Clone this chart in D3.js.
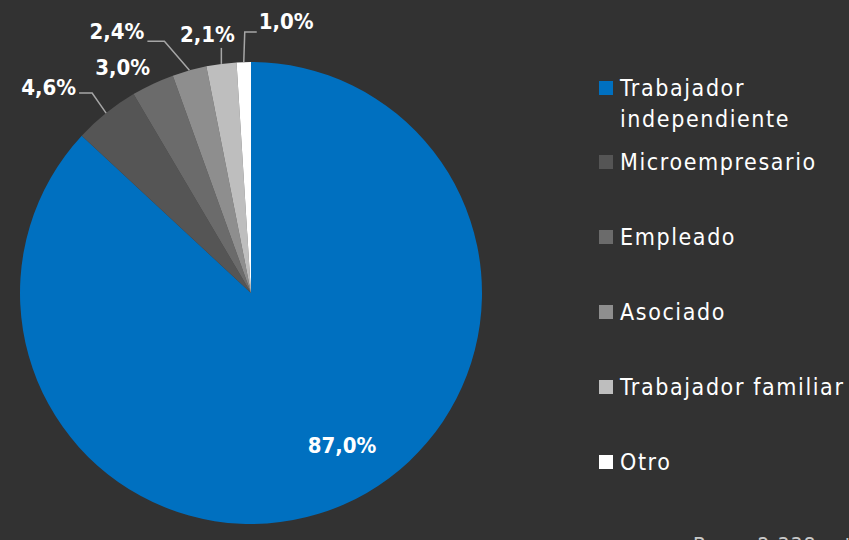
<!DOCTYPE html>
<html>
<head>
<meta charset="utf-8">
<script src="https://cdn.jsdelivr.net/npm/d3@7"></script>
<style>
  body { margin: 0; background: #323232; }
  svg { display: block; }
</style>
</head>
<body>
<div id="chart"></div>
<script>
// data
var categories = ["Trabajador independiente", "Microempresario", "Empleado", "Asociado", "Trabajador familiar", "Otro"];
var values = [87.0, 4.6, 3.0, 2.4, 2.1, 1.0];
var valueLabels = ["87,0%", "4,6%", "3,0%", "2,4%", "2,1%", "1,0%"];
var baseNote = "Base: 2.338 ortodoncistas";

var colors = ["#0070c0", "#555555", "#6b6b6b", "#8e8e8e", "#bebebe", "#ffffff"];

var width = 849;
var height = 540;
var cx = 251, cy = 293, radius = 231;

var svg = d3.select("#chart")
    .append("svg")
    .attr("width", width)
    .attr("height", height);

svg.append("rect")
    .attr("width", width)
    .attr("height", height)
    .attr("fill", "#323232");

var g = svg.append("g")
    .attr("transform", "translate(" + cx + "," + cy + ")");

var pie = d3.pie().sort(null).value(function(d) { return d; });
var arcs = pie(values);

var arc = d3.arc().innerRadius(0).outerRadius(radius);

g.selectAll(".slice")
    .data(arcs)
    .enter().append("path")
    .attr("class", "slice")
    .attr("d", arc)
    .attr("fill", function(d, i) { return colors[i]; });

// label layout: leader bends (relative to the slice edge point) and text offset
var layout = [
    {kind: "in", dx: 91, dy: 152, anchor: "middle"},
    {kind: "leader", bend: [-14, -20], end: [-27, -20], tx: -30, ty: -26, anchor: "end"},
    {kind: "plain", tx: -30, ty: -17, anchor: "middle"},
    {kind: "leader", bend: [-25, -29], end: [-42, -29], tx: -45, ty: -39, anchor: "end"},
    {kind: "leader", bend: [0, -16], end: [0, -16], tx: -14, ty: -30, anchor: "middle"},
    {kind: "leader", bend: [1, -30], end: [13, -30], tx: 15, ty: -41, anchor: "start"}
];

function edgePoint(d) {
    var a = (d.startAngle + d.endAngle) / 2;
    return [radius * Math.sin(a), -radius * Math.cos(a)];
}

arcs.forEach(function(d, i) {
    var L = layout[i];
    var p = edgePoint(d);
    var tx, ty;
    if (L.kind === "in") {
        tx = L.dx; ty = L.dy;
    } else {
        tx = p[0] + L.tx; ty = p[1] + L.ty;
        if (L.kind === "leader") {
            g.append("polyline")
                .attr("points", [p, [p[0] + L.bend[0], p[1] + L.bend[1]], [p[0] + L.end[0], p[1] + L.end[1]]].map(function(q) { return q.join(","); }).join(" "))
                .attr("fill", "none")
                .attr("stroke", "#a6a6a6")
                .attr("stroke-width", 1.5);
        }
    }
    g.append("text")
        .attr("x", tx)
        .attr("y", ty)
        .attr("dy", "0.35em")
        .attr("text-anchor", L.anchor)
        .attr("font-family", "DejaVu Sans Condensed")
        .attr("font-weight", "bold")
        .attr("font-size", "22px")
        .attr("fill", "#ffffff")
        .text(valueLabels[i]);
});

// legend
var legendRows = [
    {lines: ["Trabajador", "independiente"], y: 88},
    {lines: ["Microempresario"], y: 162},
    {lines: ["Empleado"], y: 237},
    {lines: ["Asociado"], y: 312},
    {lines: ["Trabajador familiar"], y: 387},
    {lines: ["Otro"], y: 462}
];

var legend = svg.append("g").attr("class", "legend");

var item = legend.selectAll(".item")
    .data(categories)
    .enter().append("g")
    .attr("class", "item")
    .attr("transform", function(d, i) { return "translate(599," + legendRows[i].y + ")"; });

item.append("rect")
    .attr("x", 0)
    .attr("y", -7)
    .attr("width", 14)
    .attr("height", 14)
    .attr("fill", function(d, i) { return colors[i]; });

item.append("text")
    .attr("x", 21)
    .attr("y", 0)
    .attr("font-family", "DejaVu Sans Condensed")
    .attr("font-size", "23px")
    .attr("letter-spacing", "1.6px")
    .attr("fill", "#ffffff")
    .each(function(d, i) {
        var t = d3.select(this);
        legendRows[i].lines.forEach(function(line, k) {
            t.append("tspan")
                .attr("x", 21)
                .attr("dy", k === 0 ? "0.35em" : "31px")
                .text(line);
        });
    });

svg.append("text")
    .attr("x", 693)
    .attr("y", 553)
    .attr("font-family", "DejaVu Sans Condensed")
    .attr("font-size", "21px")
    .attr("letter-spacing", "1px")
    .attr("fill", "#c8c8c8")
    .text(baseNote);
</script>
</body>
</html>
